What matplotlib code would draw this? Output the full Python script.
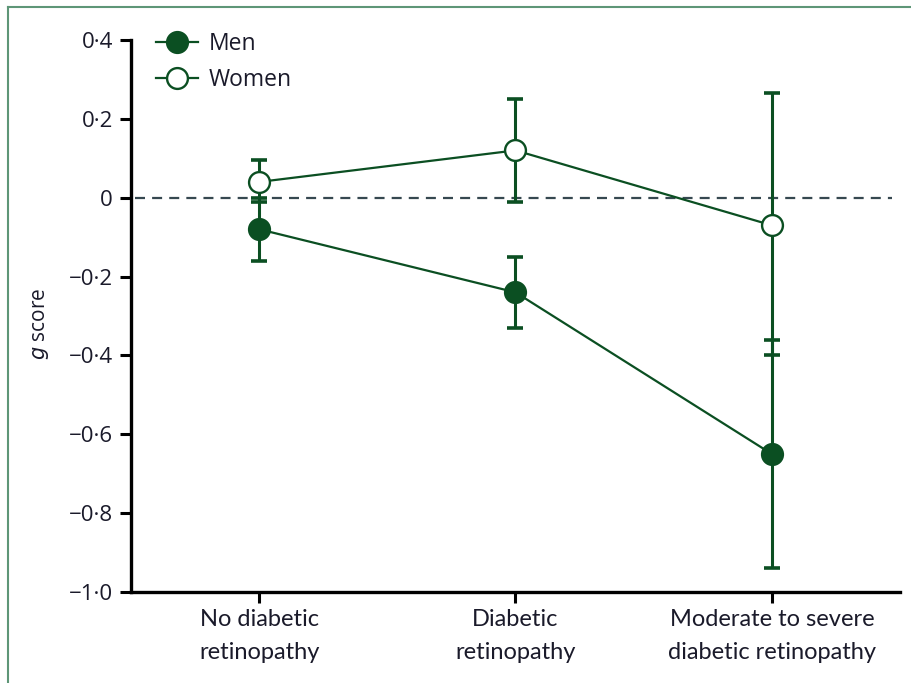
import matplotlib
matplotlib.use("Agg")
import matplotlib.pyplot as plt
from matplotlib.lines import Line2D

# Data
categories = ["No diabetic\nretinopathy", "Diabetic\nretinopathy",
              "Moderate to severe\ndiabetic retinopathy"]
men_mean = [-0.08, -0.24, -0.65]
men_low = [-0.16, -0.33, -0.94]
men_high = [0.00, -0.15, -0.36]
women_mean = [0.04, 0.12, -0.07]
women_low = [-0.01, -0.01, -0.40]
women_high = [0.095, 0.25, 0.265]
y_ticks = [0.4, 0.2, 0.0, -0.2, -0.4, -0.6, -0.8, -1.0]
y_tick_labels = ["0·4", "0·2", "0", "−0·2", "−0·4", "−0·6", "−0·8", "−1·0"]

GREEN = "#0b4f22"
TEXT = "#1a1a2a"
FONT = ["Open Sans", "DejaVu Sans"]
NARROW = ["Lato", "DejaVu Sans"]

fig = plt.figure(figsize=(9.12, 6.83), dpi=100)
ax = fig.add_axes([131 / 912, 1 - 592 / 683, (900 - 131) / 912, (592 - 40) / 683])

x = list(range(len(categories)))

# zero reference line
ax.axhline(0, xmin=0.005, xmax=0.99, color="#364850", lw=1.6,
           dashes=(4.5, 3.2), zorder=1)

def draw_series(mean, low, high, face):
    err = [[m - l for m, l in zip(mean, low)], [h - m for m, h in zip(mean, high)]]
    ax.errorbar(x, mean, yerr=err, fmt="none", ecolor=GREEN, elinewidth=2.2,
                capsize=6, capthick=2.6, zorder=2)
    ax.plot(x, mean, color=GREEN, lw=1.6, marker="o", ms=15,
            markerfacecolor=face, markeredgecolor=GREEN, markeredgewidth=1.7,
            zorder=3)

draw_series(men_mean, men_low, men_high, GREEN)
draw_series(women_mean, women_low, women_high, "white")

ax.set_xlim(-0.5, 2.5)
ax.set_ylim(-1.0, 0.4)
ax.set_yticks(y_ticks)
ax.set_yticklabels(y_tick_labels, fontsize=16, family=FONT, color=TEXT)
ax.set_xticks(x)
ax.set_xticklabels(categories, fontsize=17, family=NARROW, color=TEXT,
                   linespacing=1.7)
ax.tick_params(axis="both", length=8, width=2.2, color="black")
ax.tick_params(axis="y", pad=5)
ax.tick_params(axis="x", pad=4)

for side in ("top", "right"):
    ax.spines[side].set_visible(False)
for side in ("left", "bottom"):
    ax.spines[side].set_linewidth(2.4)
    ax.spines[side].set_color("black")

ax.set_ylabel(r"$\mathit{g}$ score", fontsize=15, family=FONT, color=TEXT)
ax.yaxis.set_label_coords(-0.104, 0.485)

handles = [
    Line2D([], [], color=GREEN, lw=1.6, marker="o", ms=15,
           markerfacecolor=GREEN, markeredgecolor=GREEN, markeredgewidth=1.7),
    Line2D([], [], color=GREEN, lw=1.6, marker="o", ms=15,
           markerfacecolor="white", markeredgecolor=GREEN, markeredgewidth=1.7),
]
leg = ax.legend(handles, ["Men", "Women"], loc="upper left",
                bbox_to_anchor=((156 - 131) / 769, 1.015), frameon=False,
                handlelength=1.85, handletextpad=0.45, labelspacing=0.55,
                borderpad=0, borderaxespad=0,
                prop={"family": FONT, "size": 16.5})
for t in leg.get_texts():
    t.set_color(TEXT)

# page frame lines
fig.add_artist(Line2D([8.5 / 912, 1.0], [1 - 6.5 / 683, 1 - 6.5 / 683],
                      transform=fig.transFigure, color="#5e9677", lw=1.5))
fig.add_artist(Line2D([8.5 / 912, 8.5 / 912], [0, 1 - 6.5 / 683],
                      transform=fig.transFigure, color="#5e9677", lw=1.5))

fig.savefig("out.png", dpi=100)
